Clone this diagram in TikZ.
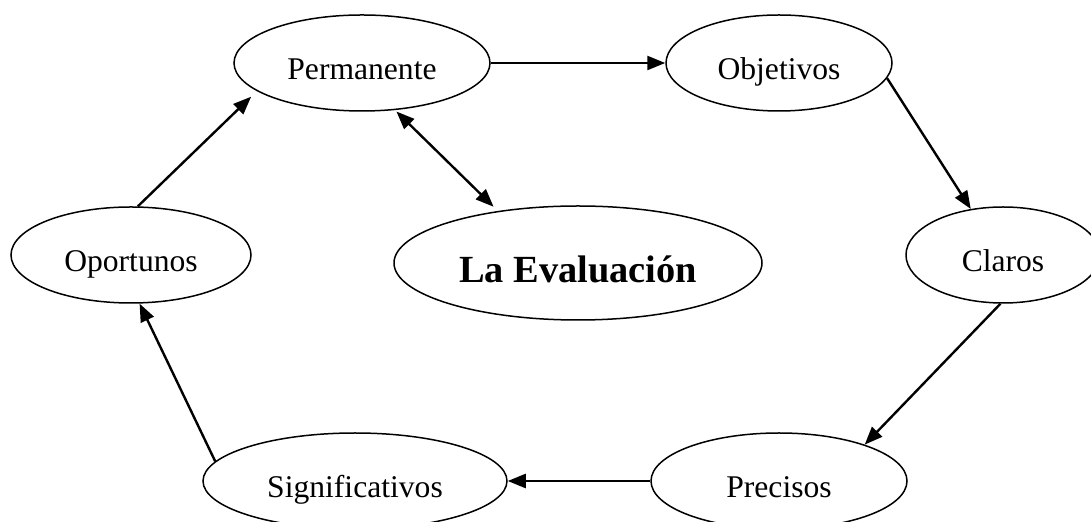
\documentclass[tikz,border=0pt]{standalone}
\usepackage{fontspec}
\setmainfont{Liberation Serif}
\usetikzlibrary{shapes.geometric,arrows.meta}
\tikzset{%
	elip/.style    = {draw, line width=0.75pt, ellipse, inner sep=0pt,
		minimum height = 48pt, text height=16.5pt, text depth=0pt,
		font=\fontsize{15.8}{19}\selectfont},
	central/.style = {elip, minimum width=184pt, minimum height=57pt, text height=20pt,
		font=\fontsize{19.2}{23}\selectfont\bfseries}, % Centro
	flecha/.style  = {line width=1.2pt, -{Triangle[length=9pt,width=7pt]}}, % Una punta
	doble/.style   = {line width=1.2pt, {Triangle[length=9pt,width=7pt]}-{Triangle[length=9pt,width=7pt]}} % Dos puntas
}

\begin{document}
\begin{tikzpicture}[x=0.5pt,y=-0.5pt]
	\useasboundingbox (0,0) rectangle (1091,522);
	\node[elip, minimum width=128pt] (perm)   at (362,63)  {Permanente};
	\node[elip, minimum width=113pt] (obj)    at (779,63)  {Objetivos};
	\node[elip, minimum width=97pt]  (claros) at (1003,255) {Claros};
	\node[elip, minimum width=128pt] (prec)   at (779,481) {Precisos};
	\node[elip, minimum width=152pt] (sig)    at (355,481) {Significativos};
	\node[elip, minimum width=120pt] (opor)   at (131,255) {Oportunos};
	\node[central] (eval) at (578,263) {La Evaluación};

	\draw[flecha] (perm.east)  -- (obj.west);
	\draw[flecha] (obj.-8)     -- (claros.125);
	\draw[flecha] (claros.-93) -- (prec.23);
	\draw[flecha] (prec.west)  -- (sig.east);
	\draw[flecha] (sig.172)    -- (opor.-80);
	\draw[flecha,shorten >=4pt] (opor.82) -- (perm.195);
	\draw[doble,shorten <=1pt,shorten >=3pt] (perm.-55) -- (eval.147);
\end{tikzpicture}
\end{document}
